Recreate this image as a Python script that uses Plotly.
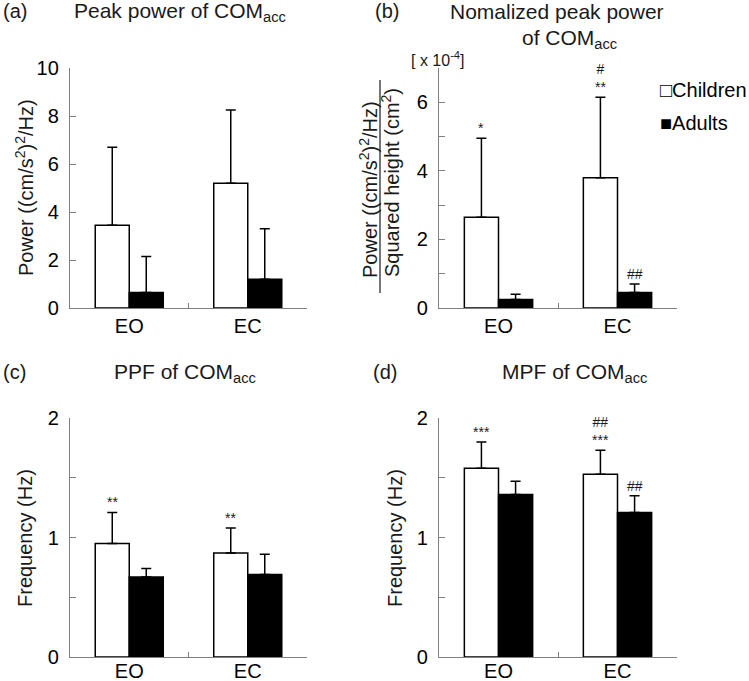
import plotly.graph_objects as go

conditions = ["EO", "EC"]
groups = ["Children", "Adults"]

a_children = [3.45, 5.2]
a_children_sd = [3.25, 3.05]
a_adults = [0.65, 1.2]
a_adults_sd = [1.5, 2.1]

b_children = [2.65, 3.8]
b_children_sd = [2.3, 2.35]
b_adults = [0.25, 0.45]
b_adults_sd = [0.15, 0.25]

c_children = [0.95, 0.87]
c_children_sd = [0.26, 0.21]
c_adults = [0.67, 0.69]
c_adults_sd = [0.07, 0.17]

d_children = [1.58, 1.53]
d_children_sd = [0.22, 0.20]
d_adults = [1.36, 1.21]
d_adults_sd = [0.11, 0.14]

panels = [
    ("a", a_children, a_children_sd, a_adults, a_adults_sd),
    ("b", b_children, b_children_sd, b_adults, b_adults_sd),
    ("c", c_children, c_children_sd, c_adults, c_adults_sd),
    ("d", d_children, d_children_sd, d_adults, d_adults_sd),
]

# significance marks: (panel, group index, condition index, text)
sig_marks = [
    ("b", 0, 0, "*"),
    ("b", 0, 1, "#<br>**"),
    ("b", 1, 1, "##"),
    ("c", 0, 0, "**"),
    ("c", 0, 1, "**"),
    ("d", 0, 0, "***"),
    ("d", 0, 1, "##<br>***"),
    ("d", 1, 1, "##"),
]

W, H = 749, 681
FONT = "Liberation Sans, Arial, sans-serif"
AXIS_GRAY = "#808080"
TEXT = "#1a1a1a"
BARGAP = 0.426

axis_names = {"a": ("x", "y"), "b": ("x2", "y2"), "c": ("x3", "y3"), "d": ("x4", "y4")}

fig = go.Figure()
for key, ch, ch_sd, ad, ad_sd in panels:
    xa, ya = axis_names[key]
    fig.add_trace(go.Bar(
        x=conditions, y=ch, name=groups[0], xaxis=xa, yaxis=ya,
        marker=dict(color="white", line=dict(color="black", width=1.5)),
        error_y=dict(type="data", symmetric=False, array=ch_sd, arrayminus=[0] * len(ch),
                     color="black", thickness=1.5, width=5),
        showlegend=False,
    ))
    fig.add_trace(go.Bar(
        x=conditions, y=ad, name=groups[1], xaxis=xa, yaxis=ya,
        marker=dict(color="black", line=dict(color="black", width=1.5)),
        error_y=dict(type="data", symmetric=False, array=ad_sd, arrayminus=[0] * len(ad),
                     color="black", thickness=1.5, width=5),
        showlegend=False,
    ))

def px_x(p):
    return p / W

def px_y(p):
    return 1 - p / H

xdom_left = [px_x(70), px_x(307)]
xdom_right = [px_x(439), px_x(677)]
ydom_top = [px_y(308), px_y(68)]
ydom_bot = [px_y(657), px_y(418)]

xcommon = dict(type="category", showline=True, linecolor=AXIS_GRAY, linewidth=1.2,
               ticks="inside", tickson="boundaries", ticklen=5, tickcolor=AXIS_GRAY,
               tickfont=dict(size=20, color="black", family=FONT), range=[-0.5, 1.5],
               showgrid=False, zeroline=False, fixedrange=True, automargin=False)
ycommon = dict(showline=True, linecolor=AXIS_GRAY, linewidth=1.2, ticks="inside",
               ticklen=6, tickcolor=AXIS_GRAY, tickfont=dict(size=20, color="black", family=FONT),
               ticklabelstandoff=6, fixedrange=True,
               showgrid=False, zeroline=False, tickmode="array", automargin=False)

fig.update_layout(
    template="none",
    width=W, height=H,
    margin=dict(l=0, r=0, t=0, b=0, autoexpand=False),
    paper_bgcolor="white", plot_bgcolor="white",
    barmode="group", bargap=BARGAP, bargroupgap=0,
    font=dict(family=FONT, color=TEXT),
    showlegend=False,
    xaxis=dict(domain=xdom_left, anchor="y", **xcommon),
    yaxis=dict(domain=ydom_top, anchor="x", range=[0, 10],
               tickvals=[0, 2, 4, 6, 8, 10], ticktext=["0", "2", "4", "6", "8", "10"], **ycommon),
    xaxis2=dict(domain=xdom_right, anchor="y2", **xcommon),
    yaxis2=dict(domain=ydom_top, anchor="x2", range=[0, 7],
                tickvals=[0, 1, 2, 3, 4, 5, 6, 7], ticktext=["0", "", "2", "", "4", "", "6", ""], **ycommon),
    xaxis3=dict(domain=xdom_left, anchor="y3", ticklabelstandoff=-4, **xcommon),
    yaxis3=dict(domain=ydom_bot, anchor="x3", range=[0, 2],
                tickvals=[0, 0.5, 1, 1.5, 2], ticktext=["0", "", "1", "", "2"], **ycommon),
    xaxis4=dict(domain=xdom_right, anchor="y4", ticklabelstandoff=-4, **xcommon),
    yaxis4=dict(domain=ydom_bot, anchor="x4", range=[0, 2],
                tickvals=[0, 0.5, 1, 1.5, 2], ticktext=["0", "", "1", "", "2"], **ycommon),
)

annotations = []
title_font = dict(size=21, color=TEXT, family=FONT)
# panel labels
for lbl, x, y in [("(a)", 1, 11), ("(b)", 373, 11), ("(c)", 1, 372), ("(d)", 371, 372)]:
    annotations.append(dict(text=lbl, x=px_x(x), y=px_y(y), xref="paper", yref="paper",
                            xanchor="left", yanchor="middle", showarrow=False,
                            font=dict(size=20, color=TEXT, family=FONT)))
# titles
for txt, x, y in [("Peak power of COM<sub>acc</sub>", 180, 12),
                  ("Nomalized peak power", 557, 11),
                  ("of COM<sub>acc</sub>", 569, 39),
                  ("PPF of COM<sub>acc</sub>", 185, 373),
                  ("MPF of COM<sub>acc</sub>", 574, 373)]:
    annotations.append(dict(text=txt, x=px_x(x), y=px_y(y), xref="paper", yref="paper",
                            xanchor="center", yanchor="middle", showarrow=False, font=title_font))
# legend entries (drawn as text with box glyphs)
for txt, y in [("\u25a1Children", 90), ("\u25a0Adults", 123)]:
    annotations.append(dict(text=txt, x=px_x(658), y=px_y(y), xref="paper", yref="paper",
                            xanchor="left", yanchor="middle", showarrow=False,
                            font=dict(size=20, color="black", family=FONT)))
# y-axis titles
ytitle_font = dict(size=20, color=TEXT, family=FONT)
for txt, x, y in [("Power ((cm/s<sup>2</sup>)<sup>2</sup>/Hz)", 25, 188),
                  ("Power ((cm/s<sup>2</sup>)<sup>2</sup>/Hz)", 369, 190),
                  ("Squared height (cm<sup>2</sup>)", 391, 183),
                  ("Frequency (Hz)", 25, 538),
                  ("Frequency (Hz)", 395, 538)]:
    annotations.append(dict(text=txt, x=px_x(x), y=px_y(y), xref="paper", yref="paper",
                            xanchor="center", yanchor="middle", textangle=-90,
                            showarrow=False, font=ytitle_font))
# exponent label for panel b
annotations.append(dict(text="[ x 10<sup>-4</sup>]", x=px_x(409), y=px_y(59), xref="paper", yref="paper",
                        xanchor="left", yanchor="middle", showarrow=False,
                        font=dict(size=16, color=TEXT, family=FONT)))

# significance marks
offset = (1 - BARGAP) / 4
panel_data = {k: (c, cs, a, as_) for k, c, cs, a, as_ in panels}
for key, gi, ci, txt in sig_marks:
    xa, ya = axis_names[key]
    c, cs, a, as_ = panel_data[key]
    top = (c[ci] + cs[ci]) if gi == 0 else (a[ci] + as_[ci])
    xpos = ci - offset if gi == 0 else ci + offset
    annotations.append(dict(text=txt, x=xpos, y=top, xref=xa, yref=ya,
                            xanchor="center", yanchor="bottom", yshift=0, showarrow=False,
                            font=dict(size=14, color=TEXT, family=FONT)))

fig.update_layout(annotations=annotations)

# fraction line for panel b y-axis title
fig.add_shape(type="line", xref="paper", yref="paper",
              x0=px_x(380), x1=px_x(380), y0=px_y(80), y1=px_y(293),
              line=dict(color=TEXT, width=1.2))

fig.write_html("out.html",
               config={"displayModeBar": False, "staticPlot": True},
               post_script="document.body.style.margin='0';document.body.style.overflow='hidden';")
